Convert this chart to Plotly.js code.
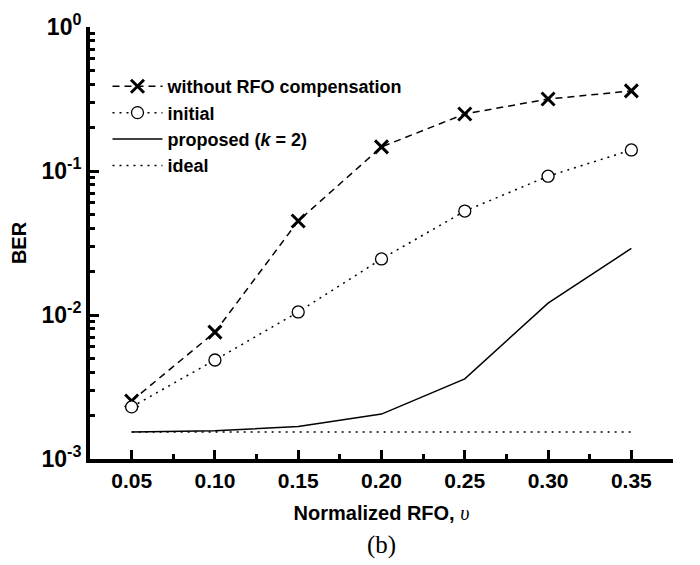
<!DOCTYPE html>
<html>
<head>
<meta charset="utf-8">
<script src="https://cdn.plot.ly/plotly-3.0.1.min.js"></script>
<style>html,body{margin:0;padding:0;background:#fff;}#chart{width:700px;height:565px;}</style>
</head>
<body>
<div id="chart"></div>
<script>
const rfo = [0.05, 0.10, 0.15, 0.20, 0.25, 0.30, 0.35];
const berWithout = [0.00253, 0.0076, 0.045, 0.147, 0.249, 0.316, 0.36];
const berInitial = [0.0023, 0.00487, 0.0105, 0.0245, 0.0527, 0.092, 0.14];
const berProposed = [0.00154, 0.00157, 0.00168, 0.00205, 0.0036, 0.0121, 0.029];
const berIdeal = [0.00154, 0.00154, 0.00154, 0.00154, 0.00154, 0.00154, 0.00154];
const seriesNames = ["without RFO compensation", "initial", "proposed (<i>k</i> = 2)", "ideal"];
const yTickVals = [0.001, 0.01, 0.1, 1];
const yTickText = ["10<sup>-3</sup>", "10<sup>-2</sup>", "10<sup>-1</sup>", "10<sup>0</sup>"];
const yMinorVals = [];
[0.001, 0.01, 0.1].forEach(d => { for (let m = 2; m <= 9; m++) yMinorVals.push(+(d * m).toPrecision(3)); });
const xMinorVals = [0.075, 0.125, 0.175, 0.225, 0.275, 0.325, 0.375];

const FONT = "Liberation Sans, Arial, Helvetica, sans-serif";

const traces = [
  {x: rfo, y: berWithout, name: seriesNames[0], mode: "lines+markers",
   line: {color: "black", width: 1.5, dash: "7px,5px"},
   marker: {symbol: "x-thin-open", size: 13, color: "black", line: {width: 3, color: "black"}}},
  {x: rfo, y: berInitial, name: seriesNames[1], mode: "lines+markers",
   line: {color: "black", width: 1.5, dash: "2px,5px"},
   marker: {symbol: "circle", size: 12, color: "white", line: {width: 1.3, color: "black"}}},
  {x: rfo, y: berProposed, name: seriesNames[2], mode: "lines",
   line: {color: "black", width: 1.5}},
  {x: rfo, y: berIdeal, name: seriesNames[3], mode: "lines",
   line: {color: "black", width: 1.5, dash: "2px,5px"}}
];

const layout = {
  width: 700, height: 565,
  margin: {l: 90, r: 27, t: 27, b: 106},
  paper_bgcolor: "white", plot_bgcolor: "white",
  font: {family: FONT, size: 20, color: "black", weight: 700},
  showlegend: true,
  legend: {x: 0.03, y: 0.905, xanchor: "left", yanchor: "top", bgcolor: "rgba(0,0,0,0)",
           font: {family: FONT, size: 18, color: "black", weight: 700}, itemwidth: 50, tracegroupgap: 0},
  xaxis: {
    type: "linear", range: [0.025, 0.375],
    tickvals: rfo, tickformat: ".2f",
    ticks: "inside", ticklen: 9, tickwidth: 3, tickcolor: "black",
    minor: {tickvals: xMinorVals, ticks: "inside", ticklen: 5, tickwidth: 3, tickcolor: "black"},
    showline: true, linewidth: 4, linecolor: "black", mirror: false,
    showgrid: false, zeroline: false,
    tickfont: {family: FONT, size: 21, weight: 700},
    title: {text: "Normalized RFO, <span style=\"font-family:'Liberation Serif',serif;font-weight:normal;font-style:italic\">υ</span>", font: {family: FONT, size: 20, weight: 700}, standoff: 16}
  },
  yaxis: {
    type: "log", range: [-3, 0],
    tickvals: yTickVals, ticktext: yTickText,
    ticks: "inside", ticklen: 9, tickwidth: 3, tickcolor: "black",
    minor: {tickvals: yMinorVals, ticks: "inside", ticklen: 5, tickwidth: 3, tickcolor: "black", showgrid: false},
    showline: true, linewidth: 4, linecolor: "black", mirror: false,
    showgrid: false, zeroline: false,
    tickfont: {family: FONT, size: 23, weight: 700},
    title: {text: "BER", font: {family: FONT, size: 20, weight: 700}, standoff: 10}
  },
  annotations: [
    {xref: "paper", yref: "paper", x: 0.5, y: -0.2, xanchor: "center", yanchor: "middle", showarrow: false,
     text: "(b)", font: {family: "Liberation Serif, Times New Roman, serif", size: 25, color: "black", weight: 400}}
  ]
};

Plotly.newPlot("chart", traces, layout, {displayModeBar: false, staticPlot: true});
</script>
</body>
</html>
